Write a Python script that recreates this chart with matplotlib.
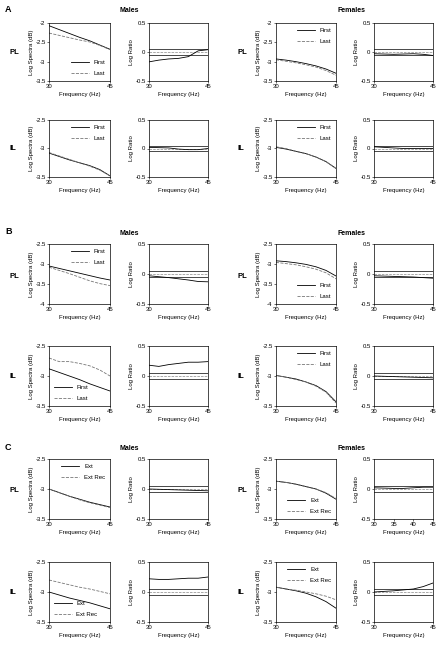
import numpy as np
import matplotlib
matplotlib.use('Agg')
import matplotlib.pyplot as plt

plt.rcParams['font.family'] = ['Liberation Sans', 'DejaVu Sans']

freq = [30, 32.5, 35, 37.5, 40, 42.5, 45]

# A: first vs last
a_pl_m_first = [-2.07, -2.17, -2.27, -2.37, -2.46, -2.57, -2.68]
a_pl_m_last = [-2.26, -2.32, -2.38, -2.44, -2.49, -2.58, -2.69]
a_pl_m_ratio = [-0.17, -0.14, -0.12, -0.11, -0.08, 0.02, 0.04]
a_pl_f_first = [-2.93, -2.96, -3.0, -3.05, -3.11, -3.19, -3.3]
a_pl_f_last = [-2.95, -2.99, -3.03, -3.08, -3.14, -3.23, -3.35]
a_pl_f_ratio = [-0.03, -0.035, -0.04, -0.035, -0.03, -0.04, -0.06]
a_il_m_first = [-3.08, -3.14, -3.2, -3.25, -3.3, -3.37, -3.48]
a_il_m_last = [-3.07, -3.13, -3.19, -3.25, -3.31, -3.38, -3.48]
a_il_m_ratio = [0.02, 0.015, 0.01, -0.01, -0.02, -0.02, 0.0]
a_il_f_first = [-2.98, -3.01, -3.05, -3.09, -3.15, -3.23, -3.35]
a_il_f_last = [-2.97, -3.0, -3.05, -3.09, -3.15, -3.23, -3.35]
a_il_f_ratio = [0.03, 0.02, 0.01, 0.0, 0.0, 0.0, 0.0]

# B: first vs last
b_pl_m_first = [-3.05, -3.11, -3.17, -3.23, -3.29, -3.35, -3.4]
b_pl_m_last = [-3.08, -3.16, -3.24, -3.33, -3.42, -3.49, -3.54]
b_pl_m_ratio = [-0.03, -0.045, -0.06, -0.08, -0.1, -0.125, -0.13]
b_pl_f_first = [-2.92, -2.94, -2.97, -3.01, -3.07, -3.16, -3.3]
b_pl_f_last = [-2.96, -2.99, -3.02, -3.07, -3.13, -3.22, -3.37]
b_pl_f_ratio = [-0.03, -0.035, -0.04, -0.045, -0.05, -0.06, -0.07]
b_il_m_first = [-2.88, -2.94, -3.0, -3.06, -3.13, -3.19, -3.25]
b_il_m_last = [-2.7, -2.76, -2.76, -2.79, -2.83, -2.9, -3.0]
b_il_m_ratio = [0.18, 0.16, 0.19, 0.21, 0.23, 0.23, 0.24]
b_il_f_first = [-2.99, -3.02, -3.05, -3.1, -3.16, -3.26, -3.43]
b_il_f_last = [-2.99, -3.02, -3.06, -3.1, -3.17, -3.27, -3.45]
b_il_f_ratio = [0.0, -0.005, -0.01, -0.015, -0.02, -0.025, -0.03]

# C: ext vs ext rec
c_pl_m_ext = [-3.0, -3.06, -3.12, -3.17, -3.22, -3.26, -3.3]
c_pl_m_rec = [-3.0, -3.06, -3.12, -3.18, -3.23, -3.27, -3.31]
c_pl_m_ratio = [0.0, -0.005, -0.01, -0.015, -0.02, -0.025, -0.03]
c_pl_f_ext = [-2.87, -2.89, -2.92, -2.96, -3.0, -3.07, -3.17]
c_pl_f_rec = [-2.87, -2.89, -2.92, -2.96, -3.0, -3.06, -3.16]
c_pl_f_ratio = [0.02, 0.015, 0.01, 0.01, 0.02, 0.03, 0.03]
c_il_m_ext = [-3.0, -3.05, -3.1, -3.14, -3.18, -3.23, -3.28]
c_il_m_rec = [-2.8, -2.84, -2.88, -2.92, -2.95, -2.99, -3.03]
c_il_m_ratio = [0.22, 0.21, 0.21, 0.22, 0.23, 0.23, 0.25]
c_il_f_ext = [-2.92, -2.95, -2.98, -3.02, -3.08, -3.16, -3.27]
c_il_f_rec = [-2.92, -2.95, -2.97, -3.0, -3.03, -3.07, -3.13]
c_il_f_ratio = [0.0, 0.01, 0.02, 0.035, 0.05, 0.09, 0.15]

W, H = 441, 645
fig = plt.figure(figsize=(W / 100, H / 100), dpi=100)
fs = 4.3

def box(x0, x1, y0, y1):
    return [x0 / W, 1 - y1 / H, (x1 - x0) / W, (y1 - y0) / H]

def spectra(pos, a, b, labels, ylim, ticks, loc, xt=(30, 45)):
    ax = fig.add_axes(pos)
    ax.plot(freq, a, color='black', lw=0.6, label=labels[0])
    ax.plot(freq, b, color='#777777', lw=0.6, ls='--', label=labels[1])
    ax.set_xlim(30, 45)
    ax.set_ylim(*ylim)
    ax.set_yticks(ticks)
    ax.set_yticklabels([('%g' % t) for t in ticks])
    ax.set_xticks(list(xt))
    ax.tick_params(labelsize=fs, length=1.5, width=0.4, pad=1)
    ax.set_xlabel('Frequency (Hz)', fontsize=fs, labelpad=2)
    ax.set_ylabel('Log Spectra (dB)', fontsize=fs, labelpad=1)
    for s in ax.spines.values():
        s.set_linewidth(0.5)
    ax.legend(loc=loc, fontsize=fs, frameon=False, handlelength=3, labelspacing=1.0, borderaxespad=0.4)
    return ax

def ratio(pos, r, xt=(30, 45)):
    ax = fig.add_axes(pos)
    ax.axhline(0.05, color='black', lw=0.5)
    ax.axhline(-0.05, color='black', lw=0.5)
    ax.axhline(0, color='#888888', lw=0.5, ls='--')
    ax.plot(freq, r, color='black', lw=0.6)
    ax.set_xlim(30, 45)
    ax.set_ylim(-0.5, 0.5)
    ax.set_yticks([-0.5, 0, 0.5])
    ax.set_yticklabels(['-0.5', '0', '0.5'])
    ax.set_xticks(list(xt))
    ax.tick_params(labelsize=fs, length=1.5, width=0.4, pad=1)
    ax.set_xlabel('Frequency (Hz)', fontsize=fs, labelpad=2)
    ax.set_ylabel('Log Ratio', fontsize=fs, labelpad=1)
    for s in ax.spines.values():
        s.set_linewidth(0.5)
    return ax

cols = [(49, 110), (149, 208), (276, 336), (374, 433)]
rows = [(23, 81), (120, 177), (244, 304), (346, 406), (459, 519), (562, 622)]
fl = ['First', 'Last']
er = ['Ext', 'Ext Rec']

sp_r = (-3.5, -2.5)
sp_t = [-3.5, -3, -2.5]

# section A
spectra(box(*cols[0], *rows[0]), a_pl_m_first, a_pl_m_last, fl, (-3.5, -2), [-3.5, -3, -2.5, -2], 'lower right')
ratio(box(*cols[1], *rows[0]), a_pl_m_ratio)
spectra(box(*cols[2], *rows[0]), a_pl_f_first, a_pl_f_last, fl, (-3.5, -2), [-3.5, -3, -2.5, -2], 'upper right')
ratio(box(*cols[3], *rows[0]), a_pl_f_ratio)
spectra(box(*cols[0], *rows[1]), a_il_m_first, a_il_m_last, fl, sp_r, sp_t, 'upper right')
ratio(box(*cols[1], *rows[1]), a_il_m_ratio)
spectra(box(*cols[2], *rows[1]), a_il_f_first, a_il_f_last, fl, sp_r, sp_t, 'upper right')
ratio(box(*cols[3], *rows[1]), a_il_f_ratio)

# section B
spectra(box(*cols[0], *rows[2]), b_pl_m_first, b_pl_m_last, fl, (-4, -2.5), [-4, -3.5, -3, -2.5], 'upper right')
ratio(box(*cols[1], *rows[2]), b_pl_m_ratio)
spectra(box(*cols[2], *rows[2]), b_pl_f_first, b_pl_f_last, fl, (-4, -2.5), [-4, -3.5, -3, -2.5], 'lower right')
ratio(box(*cols[3], *rows[2]), b_pl_f_ratio)
spectra(box(*cols[0], *rows[3]), b_il_m_first, b_il_m_last, fl, sp_r, sp_t, 'lower left')
ratio(box(*cols[1], *rows[3]), b_il_m_ratio)
spectra(box(*cols[2], *rows[3]), b_il_f_first, b_il_f_last, fl, sp_r, sp_t, 'upper right')
ratio(box(*cols[3], *rows[3]), b_il_f_ratio)

# section C
spectra(box(*cols[0], *rows[4]), c_pl_m_ext, c_pl_m_rec, er, sp_r, sp_t, 'upper right')
ratio(box(*cols[1], *rows[4]), c_pl_m_ratio)
spectra(box(*cols[2], *rows[4]), c_pl_f_ext, c_pl_f_rec, er, sp_r, sp_t, 'lower right')
ratio(box(*cols[3], *rows[4]), c_pl_f_ratio, xt=(30, 35, 40, 45))
spectra(box(*cols[0], *rows[5]), c_il_m_ext, c_il_m_rec, er, sp_r, sp_t, 'lower left')
ratio(box(*cols[1], *rows[5]), c_il_m_ratio)
spectra(box(*cols[2], *rows[5]), c_il_f_ext, c_il_f_rec, er, sp_r, sp_t, 'upper right')
ratio(box(*cols[3], *rows[5]), c_il_f_ratio)

def txt(x, y, s, size=5.5, **kw):
    fig.text(x / W, 1 - y / H, s, fontsize=size, fontweight='bold', va='center', **kw)

for letter, y in [('A', 10), ('B', 232), ('C', 448)]:
    txt(5, y, letter, size=6.5)
for y in [11, 233, 449]:
    txt(129, y, 'Males', ha='center', size=5)
    txt(352, y, 'Females', ha='center', size=5)
for lab, y in [('PL', 52), ('IL', 148), ('PL', 277), ('IL', 377), ('PL', 491), ('IL', 592)]:
    txt(10, y, lab)
    txt(238, y, lab)

fig.savefig('out.png', dpi=100)
